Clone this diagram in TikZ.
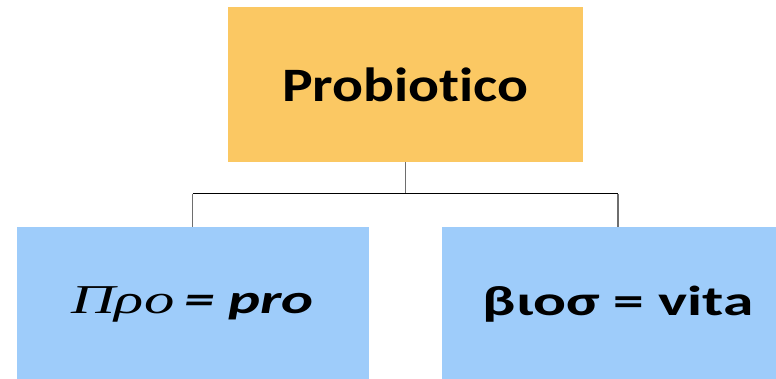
\documentclass[tikz,border=0pt]{standalone}
\usepackage{fontspec}
\setmainfont{Carlito}[Ligatures=CommonOff]
\newfontfamily\serifgreek{Liberation Serif}
\definecolor{rootfill}{HTML}{FBC863}
\definecolor{leaffill}{HTML}{9ECCFA}
\definecolor{stemgray}{HTML}{6E6E6E}
\tikzset{
  rootbox/.style={fill=rootfill, draw=none, minimum width=355pt, minimum height=155pt, inner sep=0pt},
  leafbox/.style={fill=leaffill, draw=none, minimum width=352pt, minimum height=155pt, inner sep=0pt},
  bar/.style={draw=black, line width=1pt},
  stem/.style={draw=stemgray, line width=1.6pt},
}
\begin{document}
\begin{tikzpicture}[x=1pt,y=1pt]
  \useasboundingbox (0,0) rectangle (776,379);
  \clip (0,0) rectangle (776,379);
  % root and the two leaves
  \node[rootbox] (root) at (405.5,294.5)
    {\scalebox{1.2}[1]{\fontsize{48}{48}\selectfont\bfseries Probiotico}};
  \node[leafbox] (left) at (192.5,74.5)
    {\scalebox{1.48}[1]{\fontsize{41}{41}\selectfont{\serifgreek\itshape Προ}\,{\bfseries\itshape = pro}}};
  \node[leafbox] (right) at (618,74.5)
    {\raisebox{1.5pt}{\scalebox{1.46}[1]{\fontsize{42}{42}\selectfont\bfseries βιοσ = vita}}};
  % connector bar
  \coordinate (jl) at (left.north |- 0,185);
  \coordinate (jr) at (right.north |- 0,185);
  \coordinate (jc) at (root.south |- 0,185);
  \draw[stem] (root.south) -- (jc);
  \draw[stem] (jl) -- (left.north);
  \draw[stem] (jr) -- (right.north);
  \draw[bar] (jl) -- (jr);
\end{tikzpicture}
\end{document}
